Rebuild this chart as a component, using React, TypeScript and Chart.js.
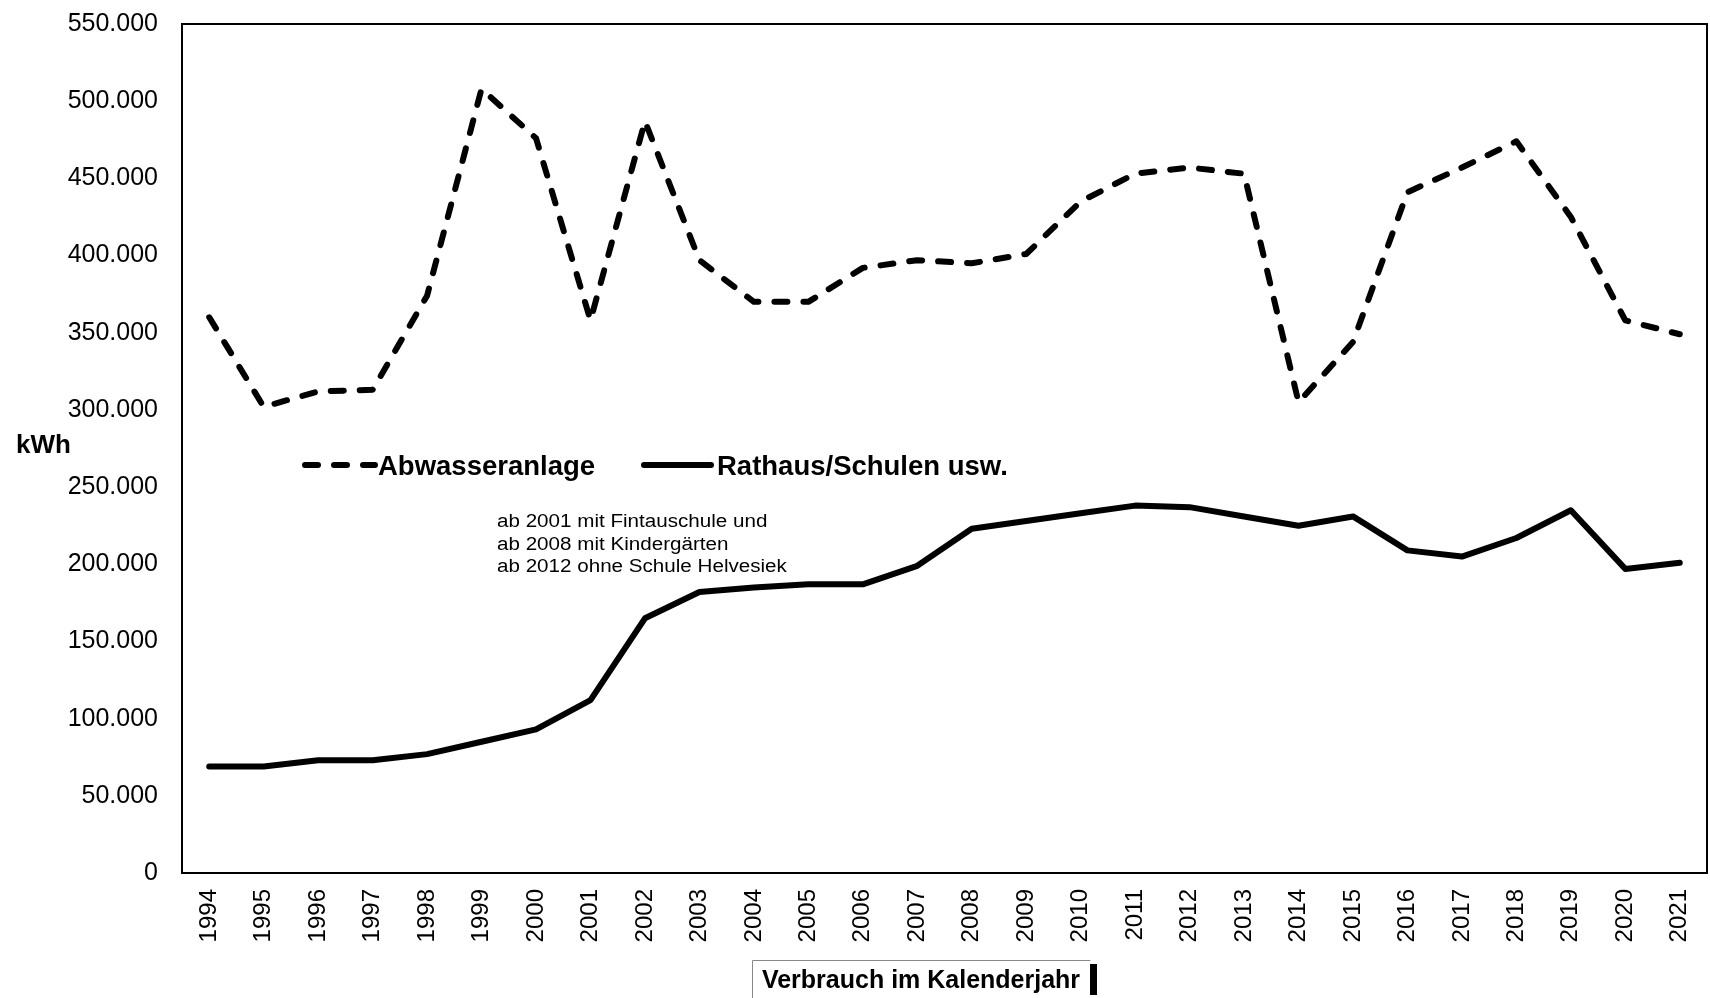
import React, { useEffect, useRef } from "react";
import { Chart, registerables } from "chart.js";

Chart.register(...registerables);

const years = ["1994","1995","1996","1997","1998","1999","2000","2001","2002","2003","2004","2005","2006","2007","2008","2009","2010","2011","2012","2013","2014","2015","2016","2017","2018","2019","2020","2021"];

const abwasseranlage = [360000, 302000, 312000, 313000, 374000, 508000, 476000, 358000, 487000, 397000, 370000, 370000, 392000, 397000, 395000, 401000, 435000, 453000, 457000, 453000, 305000, 344000, 441000, 457000, 474000, 425000, 358000, 349000];

const rathausSchulen = [69000, 69000, 73000, 73000, 77000, 85000, 93000, 112000, 165000, 182000, 185000, 187000, 187000, 199000, 223000, 228000, 233000, 238000, 237000, 231000, 225000, 231000, 209000, 205000, 217000, 235000, 197000, 201000];

const seriesNames = ["Abwasseranlage", "Rathaus/Schulen usw."];
const yAxisTitle = "kWh";
const xAxisTitle = "Verbrauch im Kalenderjahr";
const noteLines = ["ab 2001 mit Fintauschule und", "ab 2008 mit Kindergärten", "ab 2012 ohne Schule Helvesiek"];

const FONT = "'Liberation Sans', Arial, Helvetica, sans-serif";
const DASH = [13, 16];

function fmt(v: number): string {
  const s = Math.round(v).toString();
  return s.replace(/\B(?=(\d{3})+(?!\d))/g, ".");
}

const decorPlugin = {
  id: "decor",
  afterDraw(chart: any) {
    const ctx = chart.ctx as CanvasRenderingContext2D;
    const a = chart.chartArea;
    ctx.save();
    // plot frame
    ctx.strokeStyle = "#000";
    ctx.lineWidth = 2;
    ctx.strokeRect(a.left, a.top, a.right - a.left, a.bottom - a.top);

    // y title
    ctx.fillStyle = "#000";
    ctx.font = `bold 26px ${FONT}`;
    ctx.textAlign = "left";
    ctx.textBaseline = "alphabetic";
    ctx.fillText(yAxisTitle, 16, 453);

    // legend
    ctx.lineWidth = 6;
    ctx.lineCap = "round";
    ctx.setLineDash(DASH);
    ctx.beginPath();
    ctx.moveTo(305, 465);
    ctx.lineTo(375, 465);
    ctx.stroke();
    ctx.setLineDash([]);
    ctx.beginPath();
    ctx.moveTo(644, 465);
    ctx.lineTo(711, 465);
    ctx.stroke();
    ctx.font = `bold 27.5px ${FONT}`;
    ctx.fillText(seriesNames[0], 378, 475);
    ctx.fillText(seriesNames[1], 717, 475);

    // note
    ctx.font = `18px ${FONT}`;
    const baselines = [527, 550, 572];
    noteLines.forEach((t, i) => {
      ctx.save();
      ctx.translate(497, baselines[i]);
      ctx.scale(1.145, 1);
      ctx.fillText(t, 0, 0);
      ctx.restore();
    });

    // x title with box
    ctx.font = `bold 25px ${FONT}`;
    ctx.textAlign = "center";
    ctx.fillText(xAxisTitle, 921, 988);
    ctx.strokeStyle = "#888";
    ctx.lineWidth = 1;
    ctx.beginPath();
    ctx.moveTo(752.5, 998);
    ctx.lineTo(752.5, 960.5);
    ctx.lineTo(1090, 960.5);
    ctx.stroke();
    ctx.fillStyle = "#000";
    ctx.fillRect(1090, 964, 7, 31);
    ctx.restore();
  },
};

export default function App() {
  const ref = useRef<HTMLCanvasElement | null>(null);

  useEffect(() => {
    if (!ref.current) return;
    const chart = new Chart(ref.current, {
      type: "line",
      data: {
        labels: years,
        datasets: [
          {
            label: seriesNames[0],
            data: abwasseranlage,
            borderColor: "#000",
            borderWidth: 6,
            borderDash: DASH,
            borderCapStyle: "round",
            borderJoinStyle: "round",
            pointRadius: 0,
            tension: 0,
            fill: false,
          },
          {
            label: seriesNames[1],
            data: rathausSchulen,
            borderColor: "#000",
            borderWidth: 6,
            borderCapStyle: "round",
            borderJoinStyle: "round",
            pointRadius: 0,
            tension: 0,
            fill: false,
          },
        ],
      },
      options: {
        animation: false,
        responsive: true,
        maintainAspectRatio: false,
        layout: { padding: { top: 24, right: 3, left: 0, bottom: 0 } },
        plugins: {
          legend: { display: false },
          tooltip: { enabled: false },
          title: { display: false },
        },
        scales: {
          x: {
            offset: true,
            grid: { display: false, drawTicks: true, tickLength: 16 },
            border: { display: false },
            ticks: {
              autoSkip: false,
              minRotation: 90,
              maxRotation: 90,
              padding: 0,
              color: "#000",
              font: { family: FONT, size: 24 },
            },
            afterFit: (scale: any) => {
              scale.height = 125;
            },
          },
          y: {
            min: 0,
            max: 550000,
            grid: { display: false, drawTicks: true, tickLength: 24 },
            border: { display: false },
            ticks: {
              stepSize: 50000,
              padding: 0,
              color: "#000",
              font: { family: FONT, size: 25 },
              callback: (v: any) => fmt(Number(v)),
            },
            afterFit: (scale: any) => {
              scale.width = 182;
            },
          },
        },
      },
      plugins: [decorPlugin],
    });
    return () => chart.destroy();
  }, []);

  return (
    <div style={{ position: "fixed", left: 0, top: 0, width: "1710px", height: "998px", background: "#fff" }}>
      <canvas ref={ref} />
    </div>
  );
}
